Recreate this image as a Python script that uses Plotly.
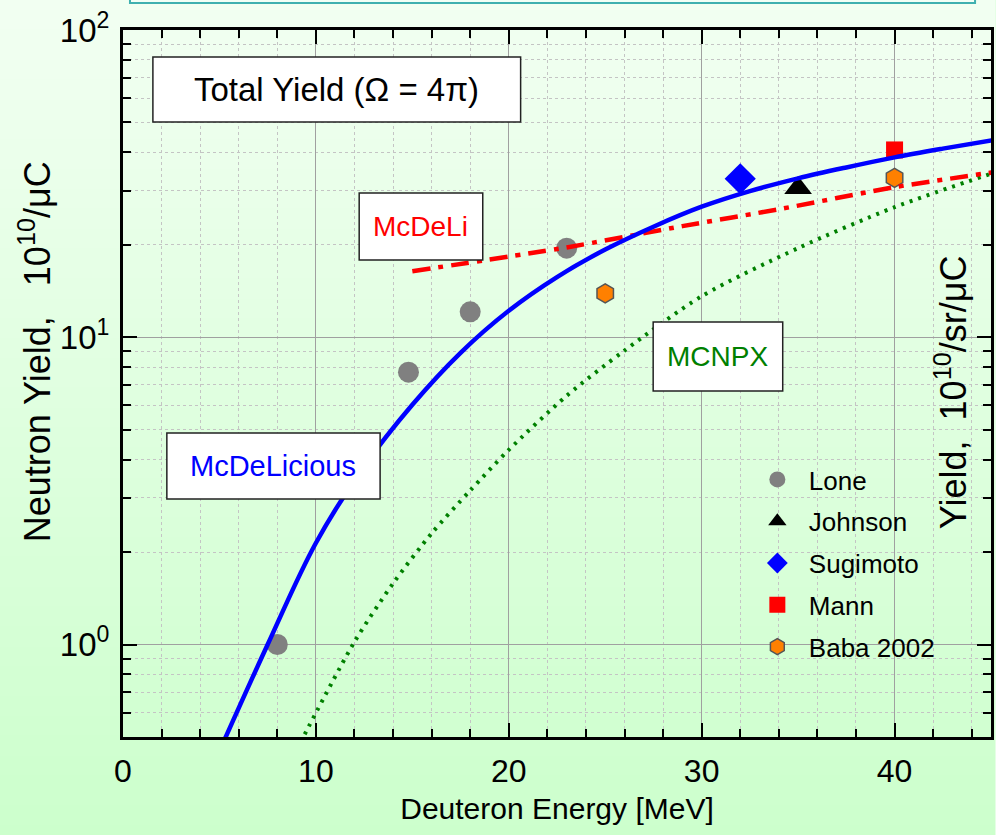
import math
import plotly.graph_objects as go

# ---- data -------------------------------------------------------------
energy_ticks = [0, 10, 20, 30, 40]
yield_ticks = [1, 10, 100]
yield_tick_text = ["10<sup>0</sup>", "10<sup>1</sup>", "10<sup>2</sup>"]

# measured total neutron yields, 10^10 n/uC
lone_e = [8, 14.8, 18, 23]
lone_y = [1.0, 7.7, 12.1, 19.5]
johnson_e = [35]
johnson_y = [30.6]
sugimoto_e = [32]
sugimoto_y = [32.8]
mann_e = [40]
mann_y = [40.7]
baba_e = [25, 40]
baba_y = [13.9, 33.0]

# calculated yields
mcdelicious_e = [5.2, 7.5, 10, 12.5, 15, 17.5, 20, 22.5, 25, 27.5, 30, 32.5, 35, 37.5,
                 40, 42.5, 45.5]
mcdelicious_y = [0.48, 1.0, 2.14, 3.8, 6.03, 8.9, 12.2, 15.7, 19.3, 22.9, 26.6, 29.9,
                 32.9, 35.7, 38.5, 41.1, 44.2]
mcdeli_e = [15, 23, 29, 34, 40, 45.5]
mcdeli_y = [16.4, 19.6, 23.0, 26.1, 30.8, 34.7]
mcnpx_e = [9.2, 12, 14, 16, 18, 20, 23, 26, 30, 35, 40, 45.5]
mcnpx_y = [0.48, 1.02, 1.58, 2.3, 3.17, 4.3, 6.45, 9.05, 13.6, 19.5, 26.5, 34.9]

FONT = "Liberation Sans"
NARROW = "Liberation Sans Narrow, Liberation Sans"

fig = go.Figure()

# experimental points (drawn first so the curves pass over them)
fig.add_trace(go.Scatter(x=lone_e, y=lone_y, mode="markers", name="Lone",
                         legendgroup="a",
                         marker=dict(symbol="circle", size=21, color="#808080")))
fig.add_trace(go.Scatter(x=johnson_e, y=johnson_y, mode="markers", name="Johnson",
                         legendgroup="b",
                         marker=dict(symbol="triangle-up", size=24, color="black")))
fig.add_trace(go.Scatter(x=sugimoto_e, y=sugimoto_y, mode="markers", name="Sugimoto",
                         legendgroup="c",
                         marker=dict(symbol="diamond", size=24, color="#0000ff")))
fig.add_trace(go.Scatter(x=mann_e, y=mann_y, mode="markers", name="Mann",
                         legendgroup="d",
                         marker=dict(symbol="square", size=17, color="#ff0000")))
fig.add_trace(go.Scatter(x=baba_e, y=baba_y, mode="markers", name="Baba 2002",
                         legendgroup="e",
                         marker=dict(symbol="hexagon", size=19, color="#ff8000",
                                     line=dict(color="#555555", width=1.5))))

# calculations
fig.add_trace(go.Scatter(x=mcnpx_e, y=mcnpx_y, mode="lines", showlegend=False,
                         line=dict(color="#008000", width=4, dash="3px,6px",
                                   shape="spline", smoothing=0.8)))
fig.add_trace(go.Scatter(x=mcdeli_e, y=mcdeli_y, mode="lines", showlegend=False,
                         line=dict(color="#ff0000", width=4.5, dash="18px,8px,5px,8px",
                                   shape="spline", smoothing=0.6)))
fig.add_trace(go.Scatter(x=mcdelicious_e, y=mcdelicious_y, mode="lines", showlegend=False,
                         line=dict(color="#0000ff", width=4.5,
                                   shape="spline", smoothing=1.0)))

# ---- page geometry ------------------------------------------------------
W, H = 996, 835
ML, MR, MT, MB = 123, 2, 30, 98
PW, PH = W - ML - MR, H - MT - MB


def px(xp):
    return (xp - ML) / PW


def py(yp):
    return (H - MB - yp) / PH


shapes = []
# vertical green gradient behind everything
top_c = (242, 255, 242)
bot_c = (204, 255, 204)
n = 84
for i in range(n):
    y0p = i * H / n
    y1p = (i + 1) * H / n + 1
    t = (i + 0.5) / n
    c = tuple(round(top_c[k] + (bot_c[k] - top_c[k]) * t) for k in range(3))
    shapes.append(dict(type="rect", xref="paper", yref="paper", layer="below",
                       x0=px(-2), x1=px(W + 2), y0=py(y1p), y1=py(y0p),
                       line=dict(width=0), fillcolor="rgb(%d,%d,%d)" % c))

# header strip at the very top
shapes.append(dict(type="rect", xref="paper", yref="paper", layer="above",
                   x0=px(130), x1=px(978), y0=py(3), y1=py(-20),
                   line=dict(color="#40b0b0", width=2), fillcolor="#f2fff6"))


def boxed(x0, y0, x1, y1, text, color, size):
    shapes.append(dict(type="rect", xref="paper", yref="paper", layer="above",
                       x0=px(x0), x1=px(x1), y0=py(y1), y1=py(y0),
                       line=dict(color="#222222", width=1.5), fillcolor="white"))
    return dict(xref="paper", yref="paper", x=px((x0 + x1) / 2), y=py((y0 + y1) / 2),
                text=text, showarrow=False, xanchor="center", yanchor="middle",
                font=dict(family=FONT, size=size, color=color))


annotations = [
    boxed(153, 57, 522, 122, "Total Yield (Ω = 4π)", "black", 33),
    boxed(360, 193, 484, 260, "McDeLi", "#ff0000", 28),
    boxed(655, 322, 785, 391, "MCNPX", "#008000", 28),
    boxed(167, 433, 381, 499, "McDeLicious", "#0000ff", 29),
    dict(xref="paper", yref="paper", x=px(35), y=py(352),
         text="Neutron Yield,\u00a0\u00a0\u00a010<sup>10</sup>/μC", textangle=-90,
         showarrow=False, xanchor="center", yanchor="middle",
         font=dict(family=NARROW, size=36, color="black")),
    dict(xref="paper", yref="paper", x=px(954), y=py(392),
         text="Yield,\u00a0\u00a010<sup>10</sup>/sr/μC", textangle=-90,
         showarrow=False, xanchor="center", yanchor="middle",
         font=dict(family=NARROW, size=36, color="black")),
]

axis_common = dict(
    showline=True, linewidth=3, linecolor="black", mirror="ticks",
    ticks="inside", ticklen=14, tickwidth=2, tickcolor="black",
    showgrid=True, gridcolor="#a0a0a0", gridwidth=1, zeroline=False,
)

fig.update_layout(
    width=W, height=H,
    margin=dict(l=ML, r=MR, t=MT, b=MB, pad=0),
    paper_bgcolor="#e6ffe6",
    plot_bgcolor="rgba(0,0,0,0)",
    font=dict(family=FONT, color="black"),
    xaxis=dict(
        **axis_common,
        range=[0, 45], tickvals=energy_ticks,
        tickfont=dict(family=FONT, size=32),
        ticklabelstandoff=4,
        minor=dict(dtick=2, tick0=0, ticks="inside", ticklen=8, tickwidth=2,
                   tickcolor="black", showgrid=True, gridcolor="#c4c4c4",
                   griddash="dot", gridwidth=1),
        title=dict(text="Deuteron Energy [MeV]", font=dict(family=FONT, size=30),
                   standoff=10),
    ),
    yaxis=dict(
        **axis_common,
        type="log", range=[math.log10(0.5), 2],
        tickvals=yield_ticks, ticktext=yield_tick_text,
        tickfont=dict(family=FONT, size=33),
        ticklabelstandoff=4,
        minor=dict(dtick="D1", ticks="inside", ticklen=8, tickwidth=2,
                   tickcolor="black", showgrid=True, gridcolor="#c4c4c4",
                   griddash="dot", gridwidth=1),
    ),
    showlegend=True,
    legend=dict(x=px(748), y=py(456), xanchor="left", yanchor="top",
                bgcolor="rgba(0,0,0,0)", borderwidth=0,
                font=dict(family=FONT, size=26),
                traceorder="grouped", tracegroupgap=5, itemwidth=53),
    shapes=shapes,
    annotations=annotations,
)

fig.write_html("out.html")
